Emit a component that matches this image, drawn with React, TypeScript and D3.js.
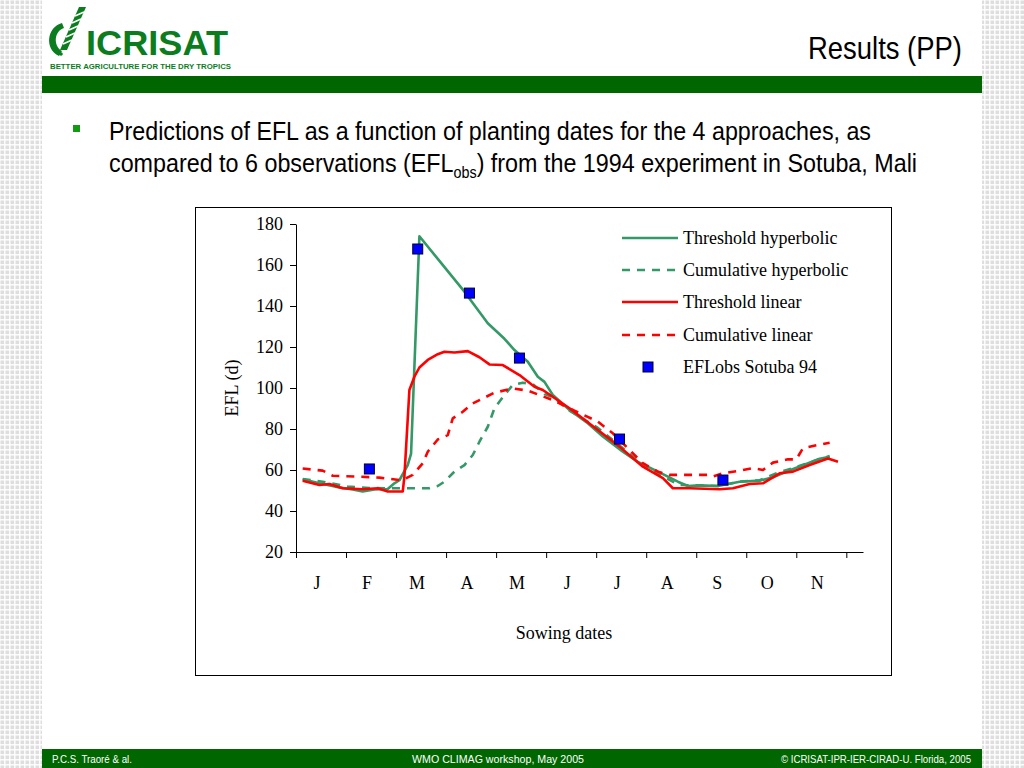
import React, { useEffect, useRef } from 'react';
import * as d3 from 'd3';

// sowing date axis: day of year, one tick per 30 days
const months = ['J', 'F', 'M', 'A', 'M', 'J', 'J', 'A', 'S', 'O', 'N'];
const xTicks = [0, 30, 60, 90, 120, 150, 180, 210, 240, 270, 300, 330];
const yTicks = [20, 40, 60, 80, 100, 120, 140, 160, 180];

// [day, EFL (d)]
const thresholdHyperbolic: [number, number][] = [
  [4, 55.5], [14, 53.5], [26, 51.5], [34, 50.5], [40, 49.5], [47, 50.5], [55, 50.7], [59, 53.5],
  [62, 55], [67, 62.4], [69, 68], [74, 174], [86, 162], [101, 147], [115, 131.6], [125, 124],
  [131, 118.5], [139, 112.8], [145, 105.5], [149, 103], [154, 96.6], [164, 89.3], [175, 82.8],
  [184, 76.3], [196, 68.9], [205, 64], [217, 59.2], [229, 54.3], [235, 52.2], [242, 52.5],
  [253, 52.2], [266, 54.3], [278, 54.8], [286, 56.5], [295, 59.5], [304, 62.3], [314, 65.5], [320, 66.5],
];

const cumulativeHyperbolic: [number, number][] = [
  [4, 55.6], [16, 54.3], [31, 51.9], [44, 51.2], [55, 51.1], [68, 51.1], [80, 51.1], [85, 52.2],
  [89, 54.3], [95, 59.2], [101, 62.4], [106, 67.3], [110, 73.8], [115, 81.1], [119, 90.1],
  [125, 96.6], [130, 101.5], [136, 102.6], [142, 101.9], [149, 97], [154, 95.5], [164, 89],
  [181, 80.5], [194, 72], [208, 62.5], [218, 57.6], [230, 52.7], [253, 52.2], [266, 54.3],
  [278, 55], [289, 58.7], [298, 60.9], [308, 63.7], [320, 66.8],
];

const thresholdLinear: [number, number][] = [
  [4, 54.8], [14, 52.7], [20, 53.2], [28, 51.1], [40, 50.6], [49, 51.1], [55, 49.5], [64, 49.5],
  [65, 56.8], [68, 99], [71, 105.5], [74, 110], [79, 113.7], [85, 116.5], [89, 117.7], [95, 117.3],
  [103, 118], [110, 115], [116, 111.5], [124, 111.2], [134, 106.3], [143, 100.6], [148, 99],
  [164, 90.1], [181, 79.5], [194, 71.4], [208, 61.6], [220, 56], [226, 51.1], [236, 51.1],
  [254, 50.6], [262, 51.1], [272, 53.2], [280, 53.5], [290, 58.4], [298, 59.2], [308, 62.4],
  [319, 65.6], [325, 64],
];

const cumulativeLinear: [number, number][] = [
  [4, 60.7], [16, 59.7], [22, 57.2], [37, 56.8], [50, 56.3], [62, 55.1], [65, 55.5], [70, 57.6],
  [76, 63.3], [79, 68.9], [85, 74.9], [91, 77], [94, 85.2], [100, 88.4], [106, 92.5], [112, 94.9],
  [119, 97.7], [130, 99.8], [139, 98.7], [154, 94.1], [166, 89.3], [181, 83.6], [190, 77.9],
  [200, 69.8], [208, 63.3], [217, 59.2], [224, 57.6], [247, 57.6], [250, 56.8], [256, 58.4],
  [266, 59.7], [274, 60.9], [280, 60], [286, 63.6], [295, 65.2], [300, 65.2], [304, 70.6],
  [313, 72.2], [320, 73.3],
];

const obsDays = [44, 73, 104, 134, 194, 256];
const obsValues = [60.5, 167.8, 146.3, 114.6, 75.1, 55.1];

const GREEN = '#339966';
const RED = '#ff0000';
const SERIF = '"Liberation Serif", "Times New Roman", serif';
const SANS = '"Liberation Sans Narrow", "Liberation Sans", Arial, sans-serif';

const series = [
  { name: 'Threshold hyperbolic', data: thresholdHyperbolic, color: GREEN, dash: null },
  { name: 'Cumulative hyperbolic', data: cumulativeHyperbolic, color: GREEN, dash: '8,7' },
  { name: 'Threshold linear', data: thresholdLinear, color: RED, dash: null },
  { name: 'Cumulative linear', data: cumulativeLinear, color: RED, dash: '8,7' },
];

const x = d3.scaleLinear().domain([0, 340]).range([296, 863]);
const y = d3.scaleLinear().domain([20, 180]).range([552, 224]);

const App: React.FC = () => {
  const yAxisRef = useRef<SVGGElement>(null);
  const xAxisRef = useRef<SVGGElement>(null);

  useEffect(() => {
    const ya = d3.select(yAxisRef.current);
    ya.selectAll('*').remove();
    ya.call(d3.axisLeft(y).tickValues(yTicks).tickSize(6).tickSizeOuter(0).tickPadding(7));
    ya.attr('font-family', SERIF).attr('font-size', 18);
    ya.selectAll('line, path').attr('stroke', '#000').attr('stroke-width', 1);
    ya.selectAll('text').attr('fill', '#000');

    const xa = d3.select(xAxisRef.current);
    xa.selectAll('*').remove();
    xa.call(
      d3.axisBottom(x).tickValues(xTicks).tickSize(6).tickSizeOuter(0).tickFormat(() => '')
    );
    xa.selectAll('line, path').attr('stroke', '#000').attr('stroke-width', 1);
  }, []);

  const line = d3
    .line<[number, number]>()
    .x(d => x(d[0]))
    .y(d => y(d[1]));

  const legendY = [238, 270, 302, 335, 367];

  return (
    <svg
      width={1024}
      height={768}
      style={{ position: 'absolute', left: 0, top: 0, background: '#fff' }}
    >
      <defs>
        <pattern id="grid" width={5} height={5} patternUnits="userSpaceOnUse">
          <rect width={5} height={5} fill="#fff" />
          <rect x={0.5} y={0.5} width={3.6} height={3.6} fill="#dedede" />
        </pattern>
      </defs>

      {/* side strips */}
      <rect x={0} y={0} width={42} height={768} fill="url(#grid)" />
      <rect x={982} y={0} width={42} height={768} fill="url(#grid)" />

      {/* header */}
      <g fill="#0b7d1e">
        <path d="M62,23 C47,27 44,49 59,56 L62,51 C53,46 54,31 64,28 Z" />
        <polygon points="60,50 67,50 86,7 79,7" />
        <circle cx={61} cy={54} r={1.8} />
      </g>
      <g stroke="#fff" strokeWidth={1.6}>
        <line x1={63} y1={44} x2={72} y2={40} />
        <line x1={66} y1={37} x2={75} y2={33} />
        <line x1={69} y1={30} x2={78} y2={26} />
        <line x1={72} y1={23} x2={81} y2={19} />
        <line x1={75} y1={16} x2={84} y2={12} />
      </g>
      <text
        x={86}
        y={55}
        fontFamily={SANS}
        fontWeight="bold"
        fontSize={35}
        fill="#0b7d1e"
        textLength={142}
        lengthAdjust="spacingAndGlyphs"
      >
        ICRISAT
      </text>
      <text
        x={50}
        y={68.5}
        fontFamily={SANS}
        fontWeight="bold"
        fontSize={7.5}
        fill="#0b7d1e"
        textLength={181}
        lengthAdjust="spacingAndGlyphs"
      >
        BETTER AGRICULTURE FOR THE DRY TROPICS
      </text>
      <rect x={42} y={76} width={940} height={17} fill="#006600" />

      <text
        x={808}
        y={59}
        fontFamily={SANS}
        fontSize={32}
        fill="#000"
        textLength={154}
        lengthAdjust="spacingAndGlyphs"
      >
        Results (PP)
      </text>

      {/* bullet */}
      <rect x={73} y={125} width={7} height={7} fill="#129a12" />
      <g fontFamily={SANS} fontSize={26} fill="#000">
        <text x={109} y={140} textLength={762} lengthAdjust="spacingAndGlyphs">
          Predictions of EFL as a function of planting dates for the 4 approaches, as
        </text>
        <text x={109} y={172} textLength={808} lengthAdjust="spacingAndGlyphs">
          compared to 6 observations (EFL
          <tspan dy={6} fontSize={16}>obs</tspan>
          <tspan dy={-6}>) from the 1994 experiment in Sotuba, Mali</tspan>
        </text>
      </g>

      {/* chart box */}
      <rect x={195.5} y={207.5} width={696} height={468} fill="#fff" stroke="#000" strokeWidth={1} />

      <g ref={yAxisRef} transform="translate(296,0)" />
      <g ref={xAxisRef} transform="translate(0,552)" />

      {months.map((m, i) => (
        <text
          key={i}
          x={x(xTicks[i] + 15) - 4}
          y={589}
          textAnchor="middle"
          fontFamily={SERIF}
          fontSize={18}
          fill="#000"
        >
          {m}
        </text>
      ))}
      <text x={564} y={639} textAnchor="middle" fontFamily={SERIF} fontSize={18} fill="#000">
        Sowing dates
      </text>
      <text
        transform="translate(238,388) rotate(-90)"
        textAnchor="middle"
        fontFamily={SERIF}
        fontSize={18}
        fill="#000"
      >
        EFL (d)
      </text>

      {/* series */}
      {series.map(s => (
        <path
          key={s.name}
          d={line(s.data) || ''}
          fill="none"
          stroke={s.color}
          strokeWidth={2.6}
          strokeDasharray={s.dash || undefined}
          strokeLinejoin="round"
        />
      ))}
      {obsDays.map((d, i) => (
        <rect
          key={i}
          x={x(d) - 5}
          y={y(obsValues[i]) - 5}
          width={10}
          height={10}
          fill="#0000ff"
          stroke="#000033"
          strokeWidth={1}
        />
      ))}

      {/* legend */}
      {series.map((s, i) => (
        <g key={s.name}>
          <line
            x1={622}
            x2={678}
            y1={legendY[i]}
            y2={legendY[i]}
            stroke={s.color}
            strokeWidth={2.6}
            strokeDasharray={s.dash || undefined}
          />
          <text x={683} y={legendY[i] + 6} fontFamily={SERIF} fontSize={18} fill="#000">
            {s.name}
          </text>
        </g>
      ))}
      <rect x={643} y={362} width={10} height={10} fill="#0000ff" stroke="#000033" strokeWidth={1} />
      <text x={683} y={373} fontFamily={SERIF} fontSize={18} fill="#000">
        EFLobs Sotuba 94
      </text>

      {/* footer */}
      <rect x={42} y={749} width={940} height={19} fill="#006600" />
      <g fontFamily={SANS} fontSize={11} fill="#fff">
        <text x={52} y={763} textLength={80} lengthAdjust="spacingAndGlyphs">
          P.C.S. Traoré &amp; al.
        </text>
        <text x={412} y={763} textLength={172} lengthAdjust="spacingAndGlyphs">
          WMO CLIMAG workshop, May 2005
        </text>
        <text x={781} y={763} textLength={190} lengthAdjust="spacingAndGlyphs">
          © ICRISAT-IPR-IER-CIRAD-U. Florida, 2005
        </text>
      </g>
    </svg>
  );
};

export default App;
